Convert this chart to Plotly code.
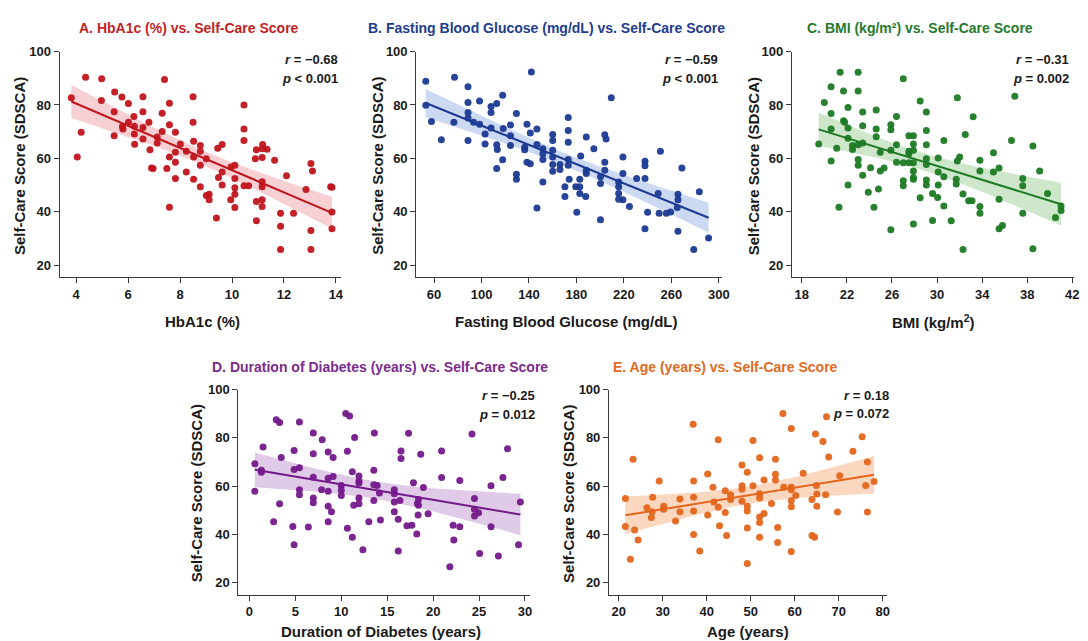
import numpy as np
import plotly.graph_objects as go

W, H = 1088, 641

# ---------------- data ----------------
A_x = [3.81, 4.04, 4.19, 4.36, 4.98, 4.97, 5.48, 5.46, 5.46, 5.76, 5.78, 5.80, 6.01, 6.01, 6.22, 6.24, 6.24, 6.25, 6.57, 6.57,
       6.57, 6.57, 6.80, 6.84, 6.90, 6.96, 7.12, 7.12, 7.31, 7.31, 7.40, 7.49, 7.59, 7.59, 7.59, 7.59, 7.82, 7.82, 7.82, 7.82,
       8.01, 8.24, 8.24, 8.50, 8.50, 8.52, 8.52, 8.52, 8.78, 8.78, 8.78, 8.78, 9.01, 9.01, 9.12, 9.12, 9.45, 9.48, 9.40, 9.62,
       9.62, 9.62, 9.96, 9.95, 10.11, 10.11, 10.11, 10.11, 10.11, 10.46, 10.46, 10.46, 10.46, 10.64, 10.90, 10.94, 10.94, 10.94, 11.16, 11.16,
       11.16, 11.16, 11.16, 11.16, 11.18, 11.35, 11.64, 11.87, 11.87, 11.87, 12.10, 12.37, 12.85, 13.04, 13.10, 13.04, 13.04, 13.80, 13.85, 13.85, 13.85]
A_y = [82.7, 60.5, 69.8, 90.4, 89.8, 81.7, 84.8, 77.5, 68.5, 83.0, 71.9, 71.0, 80.5, 73.5, 75.7, 72.0, 69.1, 65.3, 83.1, 77.5,
       71.6, 67.3, 73.5, 63.2, 56.4, 56.2, 68.0, 65.8, 70.1, 76.9, 89.5, 56.2, 80.6, 72.6, 60.5, 41.7, 69.8, 62.3, 58.6, 52.5,
       65.4, 62.7, 54.9, 83.1, 73.5, 66.4, 60.5, 52.2, 64.8, 62.7, 57.4, 49.4, 59.9, 46.1, 46.6, 44.5, 63.8, 52.8, 37.7, 65.2,
       54.9, 50.0, 56.8, 44.5, 57.4, 52.5, 49.0, 46.6, 41.6, 80.0, 71.0, 66.7, 49.8, 49.8, 59.9, 63.2, 43.9, 36.7, 63.6, 60.3,
       51.3, 49.4, 44.5, 42.0, 65.2, 63.4, 59.3, 39.5, 34.6, 25.9, 53.5, 39.5, 48.4, 58.1, 55.3, 33.0, 25.9, 49.4, 49.2, 39.9, 33.7]

B_x = [53, 57.8, 53, 66.1, 77.2, 76.7, 88.6, 88.6, 88.6, 88.6, 88.6, 93.3, 98.3, 98.3, 103, 103, 108, 108, 108, 112.8,
       112.8, 113.3, 112.8, 117.8, 118.3, 117.8, 124.4, 124.4, 124.4, 129.4, 129.4, 129.4, 136.4, 136.4, 138.3, 138.3, 141.1, 141.1, 142, 146.7,
       146.7, 146.7, 151.7, 151.7, 151.7, 151.7, 160, 160, 160, 160, 160, 160, 166.1, 166.1, 170.3, 170.3, 173.1, 173.1, 173.1, 173.1,
       173.1, 173.9, 179.4, 180.3, 182.8, 182.8, 182.8, 183.6, 187.8, 188.3, 188.3, 188.3, 194.7, 200.3, 200.3, 200.3, 203.9, 205, 203.9, 203.9,
       209.4, 215.6, 215.6, 215.6, 215.6, 219.2, 219.2, 219.2, 224.7, 230.8, 237.8, 237.8, 237.8, 237.8, 240, 248.9, 249.7, 250.8, 255.8, 259.4,
       265, 265.6, 265.6, 265.6, 268.9, 278.9, 283.6, 291.4]
B_y = [88.9, 73.8, 79.9, 67.0, 90.4, 73.5, 86.8, 80.9, 77.2, 75.1, 66.7, 73.5, 81.5, 72.8, 69.1, 65.4, 79.4, 77.2, 71.4, 80.5,
       65.1, 63.3, 56.2, 83.6, 71.2, 59.5, 72.5, 68.5, 64.8, 76.8, 54.1, 52.2, 64.2, 63.2, 72.8, 58.6, 58.0, 69.5, 92.3, 71.0,
       65.2, 41.4, 63.6, 61.7, 59.6, 51.2, 68.9, 66.7, 63.0, 60.5, 57.7, 55.2, 57.7, 55.8, 49.4, 45.7, 75.3, 70.4, 66.0, 59.6,
       57.4, 52.2, 49.4, 39.8, 52.2, 49.4, 46.9, 60.9, 45.7, 68.0, 55.6, 54.3, 63.6, 53.1, 50.6, 37.0, 68.8, 67.3, 58.6, 55.6,
       82.7, 51.2, 49.4, 46.9, 44.7, 60.5, 54.3, 44.5, 42.0, 52.5, 58.9, 57.2, 52.5, 33.7, 39.8, 46.9, 39.5, 62.7, 39.5, 39.9,
       41.6, 46.6, 44.5, 32.7, 56.4, 25.9, 47.5, 30.2]

C_x = [19.5, 20.0, 20.6, 20.6, 20.6, 20.6, 21.1, 21.4, 21.3, 21.7, 21.7, 21.8, 22.1, 22.1, 22.1, 22.1, 22.5, 22.5, 23.0, 23.0,
       23.0, 23.0, 23.0, 23.4, 23.4, 23.4, 23.4, 23.9, 24.1, 24.4, 24.6, 24.6, 24.6, 24.8, 24.96, 24.96, 25.3, 25.9, 25.9, 25.9,
       25.9, 26.4, 26.4, 26.4, 27.0, 27.0, 27.0, 27.0, 27.5, 27.5, 27.5, 27.5, 27.9, 27.9, 27.9, 27.9, 27.9, 27.9, 27.9, 27.9,
       28.5, 28.5, 29.05, 29.05, 29.05, 29.05, 29.05, 29.05, 29.05, 29.6, 29.6, 30.1, 30.1, 30.1, 30.05, 30.6, 30.6, 30.6, 31.25, 31.7,
       31.7, 31.8, 31.8, 32.0, 32.3, 32.3, 32.5, 32.8, 33.1, 33.2, 33.8, 33.8, 33.8, 33.8, 35.0, 35.0, 35.5, 35.5, 35.5, 35.8,
       36.6, 36.9, 37.6, 37.6, 37.6, 38.5, 38.5, 39.1, 39.8, 40.5, 41.0, 41.0]
C_y = [65.4, 80.9, 86.8, 76.8, 71.0, 59.0, 63.8, 92.2, 41.7, 85.2, 74.1, 73.5, 79.0, 71.4, 67.5, 50.0, 63.3, 64.8, 92.2, 85.2,
       65.1, 59.6, 57.4, 77.4, 72.2, 65.8, 53.7, 47.3, 56.5, 41.7, 78.1, 71.0, 68.1, 48.5, 62.3, 55.3, 56.4, 72.6, 70.7, 63.0,
       33.3, 75.7, 65.1, 58.6, 89.8, 58.4, 51.6, 49.8, 68.5, 62.7, 61.7, 58.4, 68.5, 65.4, 63.0, 58.4, 55.3, 52.8, 52.2, 35.4,
       45.3, 81.5, 77.4, 70.4, 65.1, 59.9, 57.7, 51.9, 50.0, 46.9, 36.8, 60.1, 54.9, 50.0, 45.4, 66.7, 53.1, 42.2, 36.7, 50.4,
       52.2, 82.7, 59.0, 60.5, 25.9, 46.7, 68.9, 44.1, 44.1, 75.6, 59.3, 55.3, 42.0, 39.5, 62.1, 54.9, 56.4, 44.7, 33.7, 34.9,
       66.7, 83.3, 52.5, 49.8, 39.5, 64.6, 26.2, 55.3, 46.9, 37.9, 40.5, 42.2]

D_x = [0.58, 0.58, 1.3, 1.3, 1.48, 2.63, 2.92, 3.28, 3.28, 3.46, 4.72, 4.86, 4.86, 4.86, 5.44, 5.44, 5.44, 5.44, 6.41, 6.95,
       6.95, 6.95, 6.95, 6.95, 7.92, 7.85, 8.57, 8.57, 8.57, 8.57, 8.57, 8.93, 9.11, 9.11, 10.0, 10.0, 10.0, 10.48, 10.9, 10.66,
       10.66, 11.2, 11.2, 11.45, 11.35, 11.92, 11.92, 11.92, 11.92, 11.92, 12.35, 13.0, 13.54, 13.54, 13.54, 13.9, 14.15, 14.26, 13.6, 15.77,
       15.77, 15.77, 15.77, 16.2, 16.2, 16.38, 16.5, 16.5, 17.14, 17.32, 17.68, 17.86, 18.22, 18.29, 18.36, 18.4, 18.4, 18.94, 18.65, 19.45,
       20.92, 20.92, 21.82, 22.18, 22.25, 22.9, 22.9, 24.23, 24.5, 24.5, 24.5, 25.06, 24.95, 26.3, 26.3, 27.1, 27.6, 28.1, 29.3, 29.5]
D_y = [69.3, 57.8, 66.6, 65.7, 76.2, 45.1, 87.5, 86.4, 52.6, 71.8, 43.2, 74.8, 66.9, 35.6, 67.6, 86.6, 58.4, 56.4, 43.0, 82.0,
       73.4, 63.6, 55.0, 53.0, 79.2, 58.4, 74.1, 63.2, 57.8, 51.6, 45.1, 49.3, 71.8, 63.9, 60.2, 58.2, 56.1, 90.1, 89.1, 74.4,
       42.4, 65.9, 38.7, 80.2, 52.0, 64.2, 62.1, 61.2, 55.0, 52.6, 33.5, 45.1, 66.6, 60.5, 54.0, 60.2, 57.1, 45.9, 82.0, 58.4,
       56.8, 53.4, 49.3, 46.2, 33.0, 54.0, 74.5, 71.4, 43.5, 81.9, 43.7, 61.4, 40.1, 52.7, 48.0, 54.4, 52.0, 59.4, 73.2, 48.5,
       74.5, 63.5, 26.4, 43.7, 37.6, 62.3, 43.1, 81.6, 54.8, 47.5, 50.3, 31.9, 48.9, 60.1, 43.1, 30.9, 63.5, 75.5, 35.6, 53.3]

E_x = [21.5, 21.5, 22.65, 23.26, 23.6, 24.4, 26.4, 27.4, 27.7, 27.6, 29.2, 30.2, 30.2, 32.9, 33.9, 33.9, 36.9, 37.0, 37.0, 37.0,
       37.0, 38.4, 40.2, 40.2, 41.4, 41.6, 42.6, 42.6, 42.9, 44.2, 44.2, 44.5, 45.4, 45.4, 48.0, 48.0, 48.0, 48.0, 49.2, 49.2,
       49.2, 49.2, 49.2, 50.5, 50.5, 52.0, 52.0, 52.0, 52.0, 52.0, 52.0, 53.0, 53.0, 54.7, 55.6, 55.6, 55.6, 56.1, 56.1, 57.3,
       57.5, 59.2, 59.2, 59.2, 59.2, 59.2, 59.2, 60.2, 61.9, 63.9, 63.9, 64.5, 64.7, 64.9, 65.0, 65.0, 66.4, 67.0, 67.2, 67.7,
       69.7, 70.2, 73.2, 75.3, 76.1, 76.5, 76.5, 78.0]
E_y = [43.2, 54.8, 29.6, 71.1, 41.7, 37.6, 51.0, 46.9, 55.3, 49.3, 62.1, 51.6, 50.3, 45.5, 54.6, 49.3, 85.7, 62.1, 55.3, 49.6,
       39.8, 33.0, 65.0, 48.0, 59.5, 53.3, 79.2, 51.2, 43.5, 58.0, 49.0, 39.4, 56.4, 54.4, 68.7, 60.1, 53.7, 58.7, 65.7, 51.6,
       49.6, 42.5, 27.8, 78.9, 60.1, 71.7, 56.8, 55.0, 47.1, 44.8, 38.7, 62.5, 48.6, 52.7, 71.1, 64.9, 62.5, 42.8, 36.5, 90.1,
       59.5, 83.9, 59.5, 58.4, 53.9, 51.4, 32.8, 56.1, 65.3, 54.4, 39.4, 38.7, 81.6, 60.2, 51.6, 56.7, 78.5, 56.4, 88.8, 72.1,
       49.2, 64.3, 74.4, 80.5, 60.2, 70.0, 49.2, 61.9]

titles = ["A. HbA1c (%) vs. Self-Care Score",
          "B. Fasting Blood Glucose (mg/dL) vs. Self-Care Score",
          "C. BMI (kg/m²) vs. Self-Care Score",
          "D. Duration of Diabetes (years) vs. Self-Care Score",
          "E. Age (years) vs. Self-Care Score"]
x_labels = ["HbA1c (%)", "Fasting Blood Glucose (mg/dL)", "BMI (kg/m<sup>2</sup>)",
            "Duration of Diabetes (years)", "Age (years)"]
y_label = "Self-Care Score (SDSCA)"
r_texts = ["−0.68", "−0.59", "−0.31", "−0.25", "0.18"]
p_texts = ["< 0.001", "< 0.001", "= 0.002", "= 0.012", "= 0.072"]

A_ticks = [4, 6, 8, 10, 12, 14]
B_ticks = [60, 100, 140, 180, 220, 260, 300]
C_ticks = [18, 22, 26, 30, 34, 38, 42]
D_ticks = [0, 5, 10, 15, 20, 25, 30]
E_ticks = [20, 30, 40, 50, 60, 70, 80]
Y_ticks = [20, 40, 60, 80, 100]

# ---------------- styling / layout ----------------
FONT = "Liberation Sans, Arial, sans-serif"
dot_colors = ["#c0141c", "#1c3a92", "#1c7a24", "#74198a", "#e3661c"]
title_colors = ["#c41e24", "#213c8f", "#267a2c", "#7b2b8e", "#e26a22"]
band_colors = ["rgba(232,120,132,0.35)", "rgba(105,145,222,0.35)", "rgba(125,192,115,0.38)",
               "rgba(170,115,192,0.38)", "rgba(246,160,105,0.42)"]
BAND_Z = 2.63  # band multiplier on the standard error of the fit

panels = [
    dict(x=A_x, y=A_y, ticks=A_ticks, xpx=(60, 343), ypx=(45, 273), xr=[3.36, 14.19], yr=[15.6, 100],
         title_pos=(190, 21), xt_pos=(204, 318), yt_pos=(19, 161), rp=(342, 53, 72)),
    dict(x=B_x, y=B_y, ticks=B_ticks, xpx=(419, 727), ypx=(45, 273), xr=[45, 303], yr=[15.6, 100],
         title_pos=(550, 21), xt_pos=(570, 318), yt_pos=(380, 161), rp=(725, 53, 72)),
    dict(x=C_x, y=C_y, ticks=C_ticks, xpx=(797, 1081), ypx=(45, 273), xr=[17.12, 42.15], yr=[15.6, 100],
         title_pos=(926, 21), xt_pos=(940, 318), yt_pos=(758, 161), rp=(1078, 53, 72)),
    dict(x=D_x, y=D_y, ticks=D_ticks, xpx=(240, 533), ypx=(387, 594), xr=[-1.2, 30.5], yr=[14.9, 100],
         title_pos=(382, 364), xt_pos=(383, 631), yt_pos=(198, 492), rp=(540, 393, 412)),
    dict(x=E_x, y=E_y, ticks=E_ticks, xpx=(613, 893), ypx=(387, 594), xr=[17.8, 81], yr=[14.9, 100],
         title_pos=(730, 364), xt_pos=(753, 631), yt_pos=(572, 492), rp=(897, 393, 411)),
]

fig = go.Figure()
annotations = []


def px2x(v):
    return v / W


def px2y(v):
    return 1 - v / H


for i, p in enumerate(panels):
    xa = "x" if i == 0 else f"x{i+1}"
    ya = "y" if i == 0 else f"y{i+1}"
    xs = np.array(p["x"], dtype=float)
    ys = np.array(p["y"], dtype=float)
    assert len(xs) == len(ys), (i, len(xs), len(ys))

    # OLS fit with confidence band
    n = len(xs)
    slope, icpt = np.polyfit(xs, ys, 1)
    resid = ys - (slope * xs + icpt)
    s = np.sqrt(np.sum(resid ** 2) / (n - 2))
    xm = xs.mean()
    sxx = np.sum((xs - xm) ** 2)
    xg = np.linspace(xs.min(), xs.max(), 60)
    yg = slope * xg + icpt
    se = s * np.sqrt(1.0 / n + (xg - xm) ** 2 / sxx)
    half = BAND_Z * se

    fig.add_trace(go.Scatter(x=xg, y=yg + half, mode="lines", line=dict(width=0),
                             hoverinfo="skip", showlegend=False, xaxis=xa, yaxis=ya))
    fig.add_trace(go.Scatter(x=xg, y=yg - half, mode="lines", line=dict(width=0),
                             fill="tonexty", fillcolor=band_colors[i],
                             hoverinfo="skip", showlegend=False, xaxis=xa, yaxis=ya))
    fig.add_trace(go.Scatter(x=xs, y=ys, mode="markers",
                             marker=dict(size=7, color=dot_colors[i], opacity=0.95, line=dict(width=0)),
                             showlegend=False, xaxis=xa, yaxis=ya))
    fig.add_trace(go.Scatter(x=xg, y=yg, mode="lines", line=dict(color=dot_colors[i], width=2),
                             showlegend=False, xaxis=xa, yaxis=ya))

    axis_common = dict(showgrid=False, zeroline=False, showline=True, linecolor="#3a3a3a", linewidth=1.2,
                       ticks="outside", ticklen=5, tickwidth=1.1, tickcolor="#3a3a3a",
                       ticklabeloverflow="allow",
                       tickfont=dict(family=FONT, size=13, color="#1a1a1a", weight="bold"))
    key_x = "xaxis" if i == 0 else f"xaxis{i+1}"
    key_y = "yaxis" if i == 0 else f"yaxis{i+1}"
    fig.update_layout({
        key_x: dict(axis_common, domain=[px2x(p["xpx"][0]), px2x(p["xpx"][1])], range=p["xr"],
                    tickvals=p["ticks"], anchor=ya),
        key_y: dict(axis_common, domain=[px2y(p["ypx"][1]), px2y(p["ypx"][0])], range=p["yr"],
                    tickvals=Y_ticks, anchor=xa),
    })

    tx, ty = p["title_pos"]
    annotations.append(dict(x=px2x(tx), y=px2y(ty), xref="paper", yref="paper", text=f"<b>{titles[i]}</b>",
                            showarrow=False, xanchor="center", yanchor="middle",
                            font=dict(family=FONT, size=14, color=title_colors[i])))
    xx, xy = p["xt_pos"]
    annotations.append(dict(x=px2x(xx), y=px2y(xy), xref="paper", yref="paper", text=f"<b>{x_labels[i]}</b>",
                            showarrow=False, xanchor="center", yanchor="middle",
                            font=dict(family=FONT, size=15, color="#1a1a1a")))
    yx, yy = p["yt_pos"]
    annotations.append(dict(x=px2x(yx), y=px2y(yy), xref="paper", yref="paper", text=f"<b>{y_label}</b>",
                            showarrow=False, xanchor="center", yanchor="middle", textangle=-90,
                            font=dict(family=FONT, size=15, color="#1a1a1a")))
    rx, ry, py = p["rp"]
    annotations.append(dict(x=px2x(rx), y=px2y(ry), xref="paper", yref="paper",
                            text=f"<b><i>r</i> = {r_texts[i]}</b>",
                            showarrow=False, xanchor="right", yanchor="middle",
                            font=dict(family=FONT, size=13, color="#1a1a1a")))
    annotations.append(dict(x=px2x(rx), y=px2y(py), xref="paper", yref="paper",
                            text=f"<b><i>p</i> {p_texts[i]}</b>",
                            showarrow=False, xanchor="right", yanchor="middle",
                            font=dict(family=FONT, size=13, color="#1a1a1a")))

fig.update_layout(width=W, height=H, margin=dict(l=0, r=0, t=0, b=0),
                  paper_bgcolor="white", plot_bgcolor="white",
                  font=dict(family=FONT), annotations=annotations, showlegend=False)

page_fix = (
    "var s='margin:0;padding:0;width:1088px;height:641px;overflow:hidden;';"
    "document.documentElement.style.cssText=s;document.body.style.cssText=s;"
    "var d=document.getElementById('{plot_id}');"
    "d.style.position='absolute';d.style.left='0px';d.style.top='0px';"
)
fig.write_html("out.html", config={"displayModeBar": False}, post_script=page_fix)
